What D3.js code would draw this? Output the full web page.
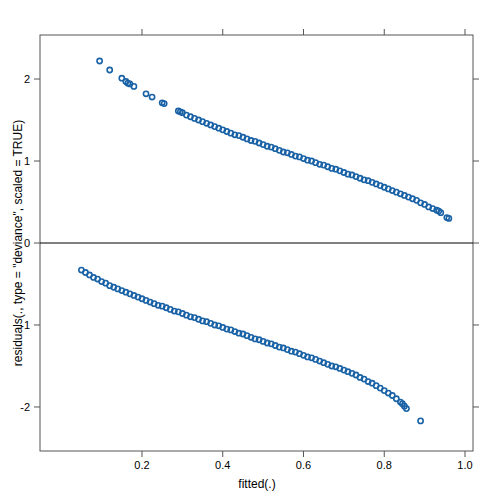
<!DOCTYPE html><html><head><meta charset="utf-8"><script src="https://d3js.org/d3.v7.min.js"></script>
<style>body{margin:0;background:#fff}text{font-family:"Liberation Sans",Arial,sans-serif}</style></head><body><svg id="c" width="504" height="504"></svg>
<script>
const upperFitted=[.095,.12,.15,.16,.165,.17,.18,.21,.225,.25,.255,.29,.295,.30,.31,.32,.33,.34,.35,.36,.37,.38,.39,.40,.41,.42,.43,.44,.45,.46,.47,.48,.49,.50,.51,.52,.53,.54,.55,.56,.57,.58,.59,.60,.61,.62,.63,.64,.65,.66,.67,.68,.69,.70,.71,.72,.73,.74,.75,.76,.77,.78,.79,.80,.81,.82,.83,.84,.85,.86,.87,.88,.89,.90,.91,.92,.93,.935,.94,.955,.96];
const upperResid=[2.22,2.11,2.01,1.97,1.95,1.94,1.91,1.82,1.78,1.71,1.70,1.61,1.60,1.59,1.56,1.54,1.52,1.50,1.48,1.46,1.44,1.42,1.40,1.38,1.36,1.34,1.32,1.31,1.29,1.27,1.25,1.24,1.22,1.20,1.18,1.17,1.15,1.13,1.11,1.10,1.08,1.06,1.05,1.03,1.01,1.00,0.98,0.96,0.95,0.93,0.91,0.90,0.88,0.86,0.84,0.83,0.81,0.79,0.77,0.76,0.74,0.72,0.70,0.68,0.66,0.64,0.62,0.60,0.58,0.56,0.54,0.52,0.49,0.47,0.44,0.42,0.40,0.39,0.37,0.31,0.30];
const lowerFitted=[.05,.06,.07,.08,.09,.10,.11,.12,.13,.14,.15,.16,.17,.18,.19,.20,.21,.22,.23,.24,.25,.26,.27,.28,.29,.30,.31,.32,.33,.34,.35,.36,.37,.38,.39,.40,.41,.42,.43,.44,.45,.46,.47,.48,.49,.50,.51,.52,.53,.54,.55,.56,.57,.58,.59,.60,.61,.62,.63,.64,.65,.66,.67,.68,.69,.70,.71,.72,.73,.74,.75,.76,.77,.78,.79,.80,.81,.82,.83,.84,.845,.85,.855,.89];
const lowerResid=[-0.33,-0.36,-0.39,-0.42,-0.44,-0.47,-0.49,-0.52,-0.54,-0.56,-0.58,-0.60,-0.62,-0.64,-0.66,-0.68,-0.70,-0.72,-0.74,-0.76,-0.77,-0.79,-0.81,-0.83,-0.84,-0.86,-0.88,-0.90,-0.91,-0.93,-0.95,-0.96,-0.98,-1.00,-1.01,-1.03,-1.05,-1.06,-1.08,-1.10,-1.11,-1.13,-1.15,-1.17,-1.18,-1.20,-1.22,-1.23,-1.25,-1.27,-1.28,-1.30,-1.32,-1.33,-1.35,-1.37,-1.39,-1.40,-1.42,-1.44,-1.46,-1.48,-1.50,-1.51,-1.53,-1.55,-1.57,-1.59,-1.61,-1.64,-1.66,-1.69,-1.71,-1.74,-1.77,-1.80,-1.83,-1.86,-1.90,-1.94,-1.96,-1.99,-2.02,-2.17];
const xTicks=[0.2,0.4,0.6,0.8,1.0];
const xTickLabels=["0.2","0.4","0.6","0.8","1.0"];
const yTicks=[-2,-1,0,1,2];
const yTickLabels=["-2","-1","0","1","2"];

const svg=d3.select("#c");
const L=40,R=473,T=35,B=451;
const x=d3.scaleLinear().domain([-0.0526,1.0198]).range([L,R]);
const y=d3.scaleLinear().domain([-2.537,2.537]).range([B,T]);
const g="#555";
svg.append("rect").attr("x",L).attr("y",T).attr("width",R-L).attr("height",B-T).attr("fill","none").attr("stroke",g);
xTicks.forEach((t,i)=>{
  svg.append("line").attr("x1",x(t)).attr("x2",x(t)).attr("y1",B).attr("y2",B+6).attr("stroke",g);
  svg.append("line").attr("x1",x(t)).attr("x2",x(t)).attr("y1",T).attr("y2",T-6).attr("stroke",g);
  svg.append("text").attr("x",x(t)).attr("y",B+18).attr("text-anchor","middle").attr("font-size",11).text(xTickLabels[i]);
});
yTicks.forEach((t,i)=>{
  svg.append("line").attr("x1",L).attr("x2",L-6).attr("y1",y(t)).attr("y2",y(t)).attr("stroke",g);
  svg.append("line").attr("x1",R).attr("x2",R+6).attr("y1",y(t)).attr("y2",y(t)).attr("stroke",g);
  svg.append("text").attr("x",L-10).attr("y",y(t)+4).attr("text-anchor","end").attr("font-size",11).text(yTickLabels[i]);
});
svg.append("line").attr("x1",L).attr("x2",R).attr("y1",y(0)).attr("y2",y(0)).attr("stroke","#000");
const pts=upperFitted.map((f,i)=>[f,upperResid[i]]).concat(lowerFitted.map((f,i)=>[f,lowerResid[i]]));
svg.selectAll("circle.p").data(pts).enter().append("circle").attr("class","p")
  .attr("cx",d=>x(d[0])).attr("cy",d=>y(d[1])).attr("r",2.6)
  .attr("fill","none").attr("stroke","#1a62a6").attr("stroke-width",1.6);
svg.append("text").attr("x",257).attr("y",488).attr("text-anchor","middle").attr("font-size",12).text("fitted(.)");
svg.append("text").attr("transform","translate(22,243) rotate(-90)").attr("text-anchor","middle").attr("font-size",12).text('residuals(., type = "deviance", scaled = TRUE)');
</script></body></html>
